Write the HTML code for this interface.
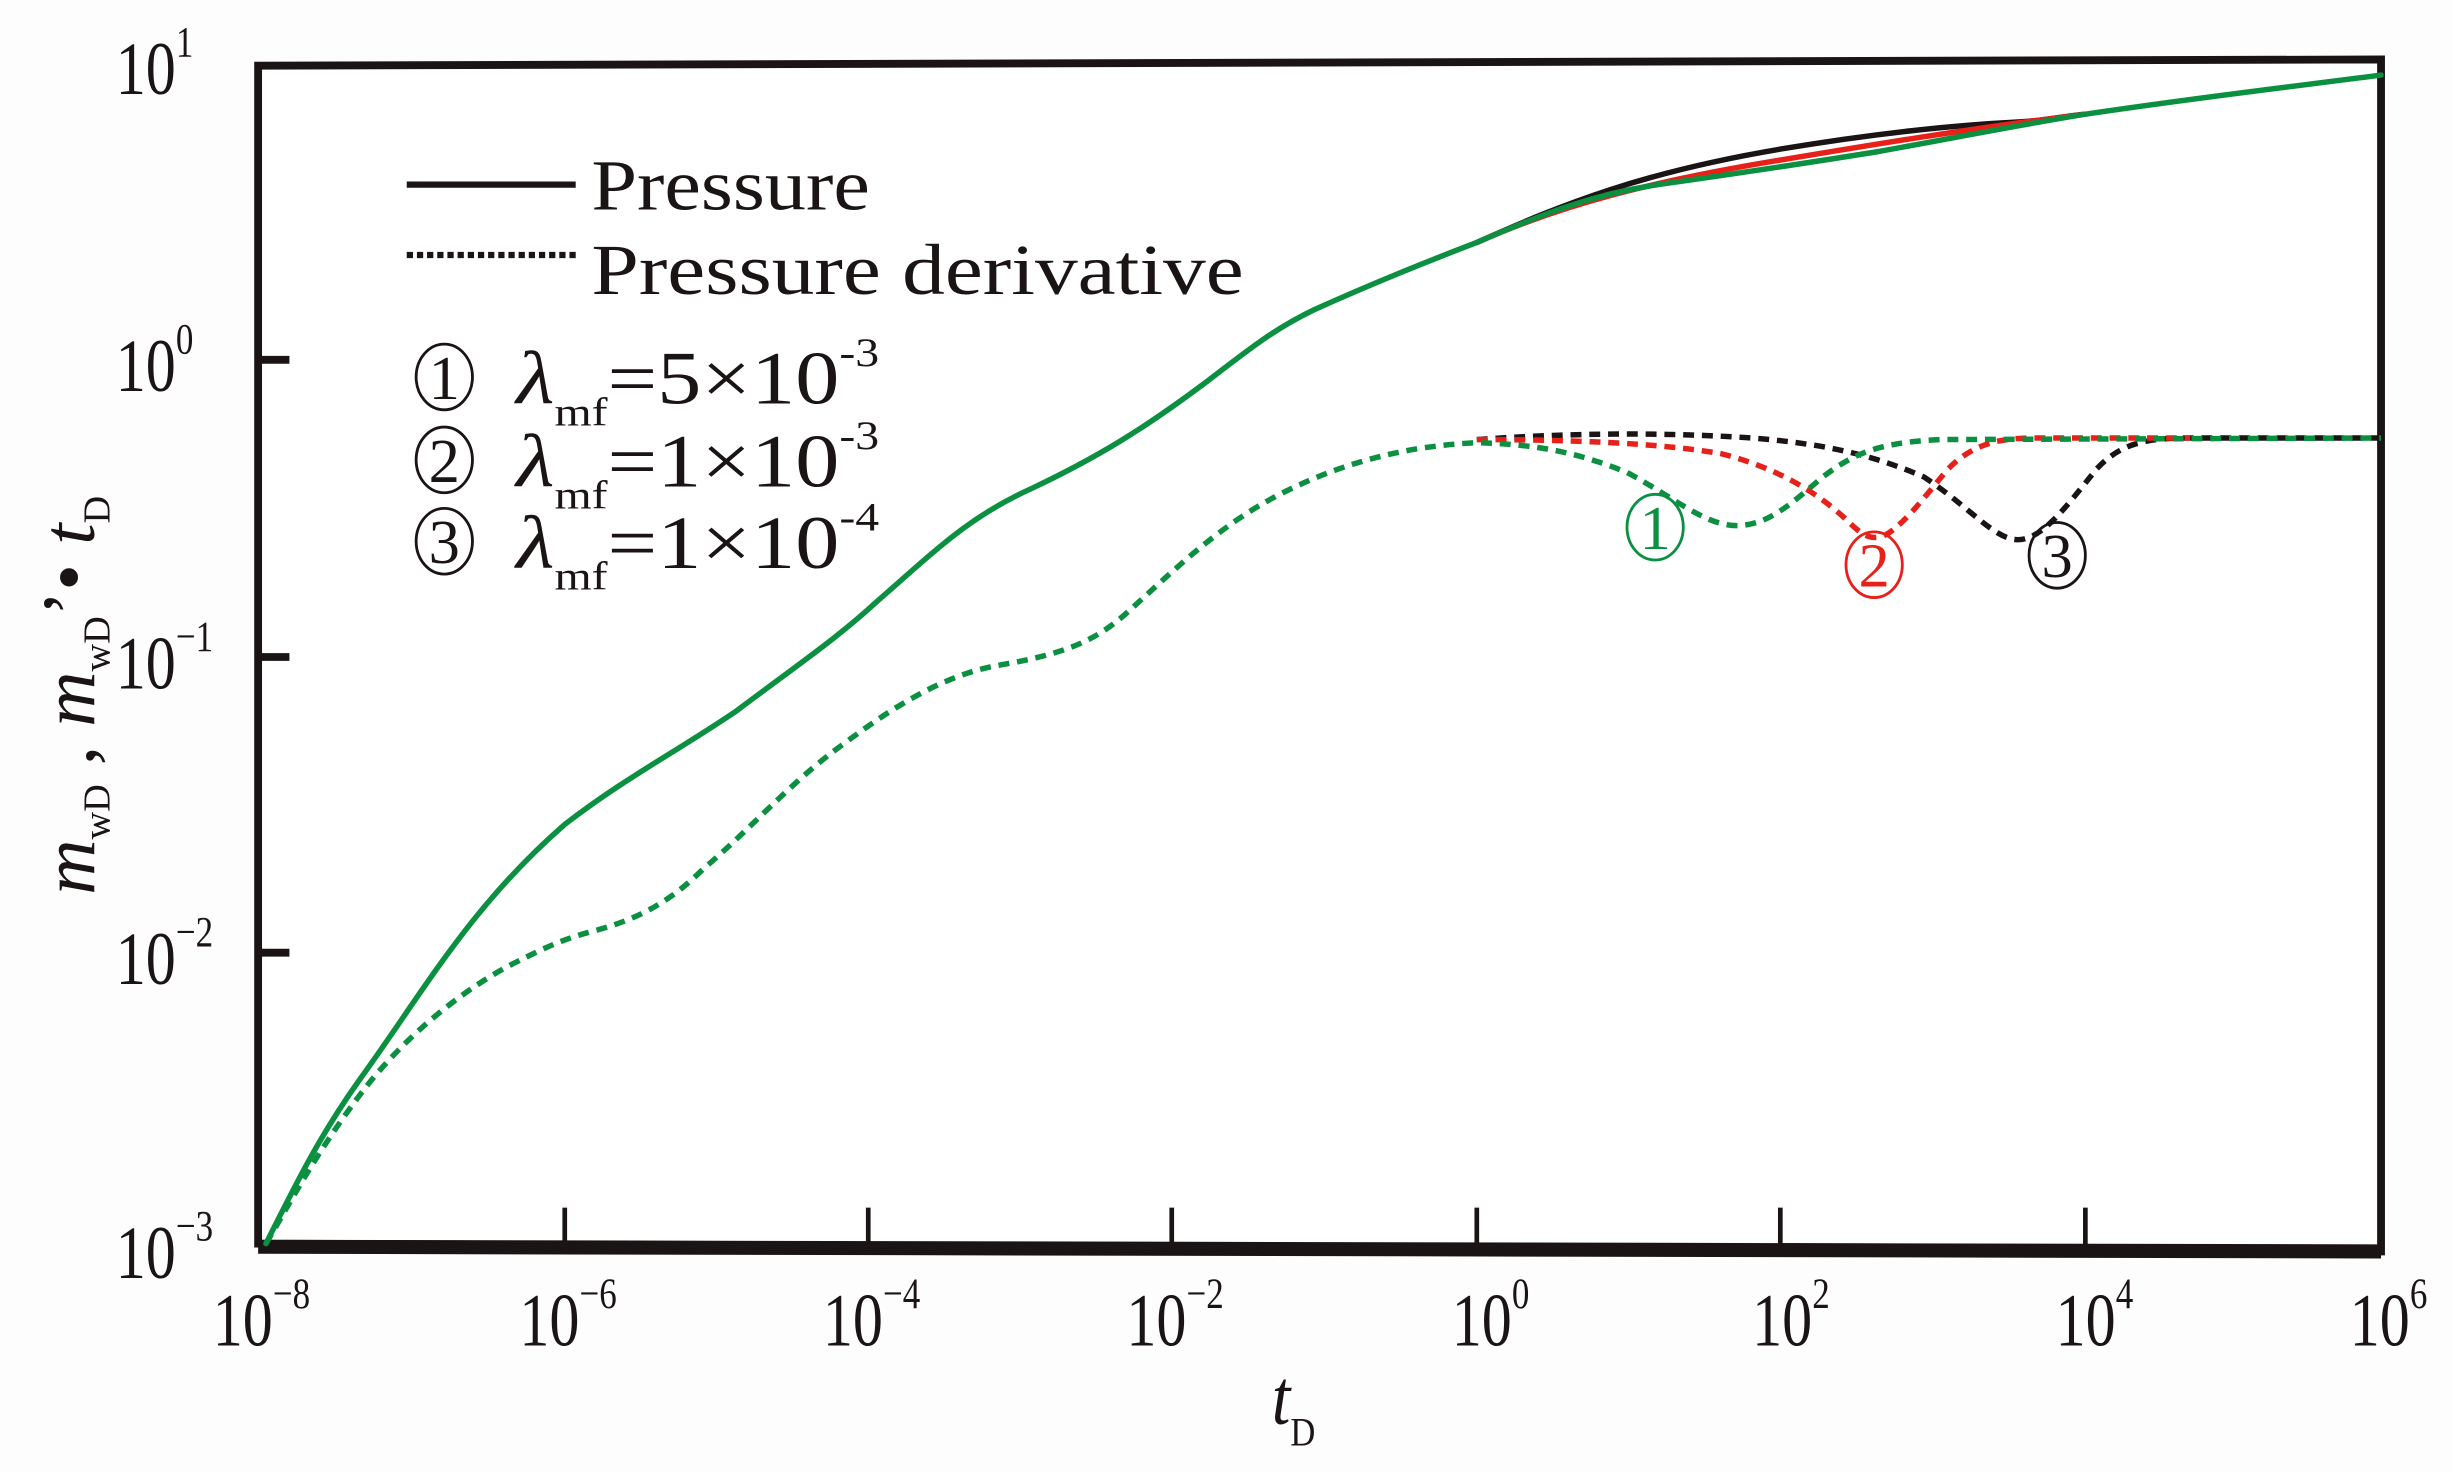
<!DOCTYPE html>
<html><head><meta charset="utf-8"><style>
html,body{margin:0;padding:0;background:#fdfdfd;}
svg{display:block;}
text{font-family:"Liberation Serif",serif;fill:#1a1414;}
</style></head><body>
<svg width="2453" height="1472" viewBox="0 0 1568 941" preserveAspectRatio="none" xmlns="http://www.w3.org/2000/svg">
<rect x="0" y="0" width="1568" height="941" fill="#fdfdfd"/>
<path d="M165,42 L1522,38 L1522,800 L165,795 Z" fill="#fff" stroke="#1a1414" stroke-width="5"/>
<line x1="165" y1="797" x2="1522" y2="800" stroke="#1a1414" stroke-width="9"/>
<g stroke="#1a1414" stroke-width="3">
<line x1="361" y1="772" x2="361" y2="796"/><line x1="555" y1="772" x2="555" y2="797"/>
<line x1="749" y1="772" x2="749" y2="797"/><line x1="944" y1="772" x2="944" y2="798"/>
<line x1="1138" y1="772" x2="1138" y2="798"/><line x1="1333" y1="772" x2="1333" y2="799"/>
</g>
<g stroke="#1a1414" stroke-width="5">
<line x1="165" y1="230" x2="185" y2="230"/><line x1="165" y1="420" x2="185" y2="420"/><line x1="165" y1="609" x2="185" y2="609"/>
</g>
<g font-size="48">
<text transform="translate(74,60) scale(0.8,1)">10<tspan font-size="28" dy="-24">1</tspan></text>
<text transform="translate(74,250) scale(0.8,1)">10<tspan font-size="28" dy="-24">0</tspan></text>
<text transform="translate(74,440) scale(0.8,1)">10<tspan font-size="28" dy="-24">−1</tspan></text>
<text transform="translate(74,629) scale(0.8,1)">10<tspan font-size="28" dy="-24">−2</tspan></text>
<text transform="translate(74,817) scale(0.8,1)">10<tspan font-size="28" dy="-24">−3</tspan></text>
</g>
<g font-size="48">
<text transform="translate(136,860) scale(0.8,1)">10<tspan font-size="28" dy="-24">−8</tspan></text>
<text transform="translate(332,860) scale(0.8,1)">10<tspan font-size="28" dy="-24">−6</tspan></text>
<text transform="translate(526,860) scale(0.8,1)">10<tspan font-size="28" dy="-24">−4</tspan></text>
<text transform="translate(720,860) scale(0.8,1)">10<tspan font-size="28" dy="-24">−2</tspan></text>
<text transform="translate(928,860) scale(0.8,1)">10<tspan font-size="28" dy="-24">0</tspan></text>
<text transform="translate(1120,860) scale(0.8,1)">10<tspan font-size="28" dy="-24">2</tspan></text>
<text transform="translate(1314,860) scale(0.8,1)">10<tspan font-size="28" dy="-24">4</tspan></text>
<text transform="translate(1502,860) scale(0.8,1)">10<tspan font-size="28" dy="-24">6</tspan></text>
</g>
<text transform="translate(813,910) scale(0.85,1)" font-size="50" font-style="italic">t<tspan font-size="26" font-style="normal" dy="14">D</tspan></text>
<text transform="translate(60,572) rotate(-90)" font-size="48" textLength="255" lengthAdjust="spacingAndGlyphs"><tspan font-style="italic">m</tspan><tspan font-size="24" dy="10">wD</tspan><tspan dy="-10"> , </tspan><tspan font-style="italic">m</tspan><tspan font-size="24" dy="10">wD</tspan><tspan dy="-10">’• </tspan><tspan font-style="italic">t</tspan><tspan font-size="24" dy="10">D</tspan></text>
<line x1="260" y1="118" x2="368" y2="118" stroke="#1a1414" stroke-width="4"/>
<line x1="260" y1="163" x2="368" y2="163" stroke="#1a1414" stroke-width="4" stroke-dasharray="4,2.5"/>
<g font-size="46">
<text x="378" y="134" textLength="178" lengthAdjust="spacingAndGlyphs">Pressure</text>
<text x="378" y="188" textLength="417" lengthAdjust="spacingAndGlyphs">Pressure  derivative</text>
</g>
<g fill="none" stroke="#1a1414" stroke-width="1.8">
<ellipse cx="284" cy="241" rx="18" ry="21"/><ellipse cx="284" cy="294" rx="18" ry="21"/><ellipse cx="284" cy="346" rx="18" ry="21"/>
</g>
<g font-size="40" text-anchor="middle">
<text x="284" y="255">1</text>
<text x="284" y="308">2</text>
<text x="284" y="360">3</text>
</g>
<g font-size="48">
<text x="330" y="258" textLength="232" lengthAdjust="spacingAndGlyphs"><tspan font-style="italic">λ</tspan><tspan font-size="26" dy="14">mf</tspan><tspan dy="-14">=5×10</tspan><tspan font-size="26" dy="-24">-3</tspan></text>
<text x="330" y="311" textLength="232" lengthAdjust="spacingAndGlyphs"><tspan font-style="italic">λ</tspan><tspan font-size="26" dy="14">mf</tspan><tspan dy="-14">=1×10</tspan><tspan font-size="26" dy="-24">-3</tspan></text>
<text x="330" y="363" textLength="232" lengthAdjust="spacingAndGlyphs"><tspan font-style="italic">λ</tspan><tspan font-size="26" dy="14">mf</tspan><tspan dy="-14">=1×10</tspan><tspan font-size="26" dy="-24">-4</tspan></text>
</g>
<g fill="none" stroke-width="3.5" stroke-linecap="round">
<path stroke="#1a1414" d="M944,155 C1000,130 1050,110 1140,95 C1200,85 1250,80 1290,78 C1310,77 1320,74 1333,73"/>
<path stroke="#e8201a" d="M944,155 C1000,130 1060,115 1140,102 C1200,92 1260,82 1333,73"/>
<path stroke="#0a9040" d="M170,795 C190,755 205,725 230,690 C270,635 300,580 361,527 C400,497 430,482 470,455 C510,425 535,408 560,385 C600,350 620,330 660,312 C700,293 730,275 770,245 C800,222 815,210 840,198 C880,180 910,168 944,155 C990,135 1020,124 1060,118 C1110,111 1150,105 1200,97 C1250,88 1290,80 1333,73 C1400,63 1460,56 1522,48"/>
</g>
<g fill="none" stroke-width="3.5" stroke-dasharray="7,5">
<path stroke="#1a1414" d="M944,281 C1000,277 1060,276 1120,280 C1170,284 1200,292 1230,305 C1260,325 1275,345 1290,345 C1305,345 1320,325 1340,300 C1355,284 1370,280 1400,280 L1522,280"/>
<path stroke="#e8201a" d="M944,281 C1000,281 1060,283 1100,290 C1140,300 1165,318 1180,332 C1190,342 1195,345 1203,343 C1215,338 1230,318 1245,300 C1260,285 1275,280 1300,280 L1400,280"/>
<path stroke="#0a9040" d="M170,795 C185,770 200,740 230,700 C260,660 300,630 330,615 C350,605 361,600 380,595 C410,587 430,575 450,555 C480,530 505,500 540,475 C580,445 610,430 640,425 C680,418 700,410 720,392 C750,365 780,335 820,315 C860,295 900,285 944,283 C985,284 1010,290 1040,302 C1070,318 1090,336 1110,336 C1130,336 1145,322 1165,305 C1185,290 1200,283 1240,281 L1522,280"/>
</g>
<g fill="none" stroke-width="1.8">
<ellipse cx="1058" cy="337" rx="18" ry="21" stroke="#0a9040"/>
<ellipse cx="1198" cy="361" rx="18" ry="21" stroke="#e8201a"/>
<ellipse cx="1315" cy="355" rx="18" ry="21" stroke="#1a1414"/>
</g>
<g font-size="40" text-anchor="middle">
<text x="1058" y="351" style="fill:#0a9040">1</text>
<text x="1198" y="375" style="fill:#e8201a">2</text>
<text x="1315" y="369">3</text>
</g>
</svg>
</body></html>
